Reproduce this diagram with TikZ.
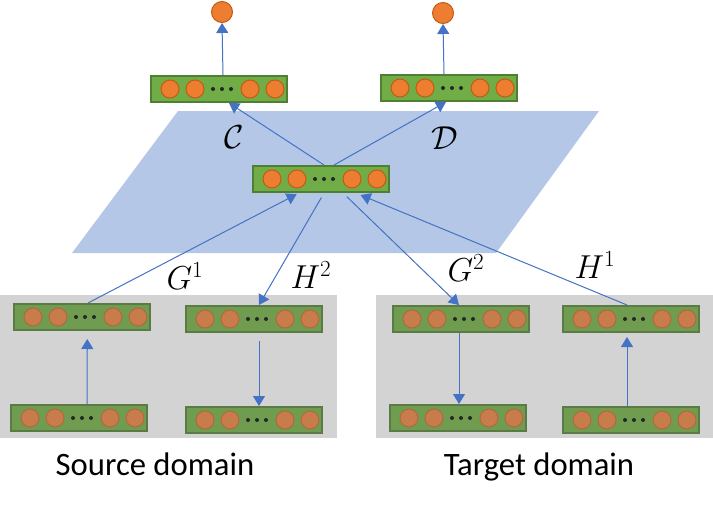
\documentclass[tikz,border=0pt]{standalone}
\usepackage{amsmath,amssymb}
\usepackage{fontspec}
\usepackage{xcolor}
\usepackage{tikz}
\usetikzlibrary{arrows.meta}

\newfontfamily\captionfont{Carlito}

\definecolor{layerfill}{HTML}{70AD47}
\definecolor{layerdraw}{HTML}{507E32}
\definecolor{unitfill}{HTML}{ED7D31}
\definecolor{unitdraw}{HTML}{C55A11}
\definecolor{layerfillg}{HTML}{6F9C4F}
\definecolor{layerdrawg}{HTML}{5A7A46}
\definecolor{unitfillg}{HTML}{C87C4C}
\definecolor{unitdrawg}{HTML}{B0693D}
\definecolor{panelgrey}{HTML}{D3D3D3}
\definecolor{planeblue}{HTML}{B4C7E7}
\definecolor{linkblue}{HTML}{4472C4}

\tikzset{
  layerbox/.style={draw=layerdraw, fill=layerfill, line width=1.5pt, minimum width=102pt, minimum height=19.5pt, inner sep=0pt},
  layerboxg/.style={layerbox, draw=layerdrawg, fill=layerfillg},
  unit/.style={circle, draw=unitdraw, fill=unitfill, line width=0.75pt, minimum size=13.5pt, inner sep=0pt},
  unitg/.style={unit, draw=unitdrawg, fill=unitfillg},
  dotmark/.style={circle, fill=black!85, minimum size=3pt, inner sep=0pt},
  link/.style={draw=linkblue, line width=0.75pt, -{Triangle[length=7.5pt,width=9pt]}},
  maplabel/.style={inner sep=0.75pt, font=\fontsize{26}{30}\selectfont},
}

% layer: name, top-left x, top-left y, colour suffix ({} or g)
\newcommand{\layer}[4]{%
  \node[layerbox#4, anchor=north west] (#1) at (#2,#3) {};
  \foreach \dx in {20,45,100,125}
    \node[unit#4] (#1-\dx) at ([xshift=\dx*0.75pt]#1.west) {};
  \foreach \dx in {63,72,81}
    \node[dotmark] (#1-d\dx) at ([xshift=\dx*0.75pt]#1.west) {};
}

\begin{document}
\begin{tikzpicture}[x=0.75pt,y=0.75pt,yscale=-1,xscale=1]
\useasboundingbox (0,0) rectangle (713,504);
%Shape: Parallelogram (shared space)
\fill[planeblue] (178,111) -- (599,111) -- (496,253) -- (72,253) -- cycle;
%Shape: Rectangle (source panel)
\fill[panelgrey] (0,295) rectangle (337,438);
%Shape: Rectangle (target panel)
\fill[panelgrey] (376,295) rectangle (713,438);

% Output units
\node[unit, minimum size=15.75pt] (outC) at (222,12) {};
\node[unit, minimum size=15.75pt] (outD) at (443,13) {};

% Layers
\layer{layC}{150}{75}{}
\layer{layD}{380}{74}{}
\layer{shared}{252}{165}{}
\layer{srcA}{13}{303}{g}
\layer{srcB}{185}{305}{g}
\layer{srcIn}{10}{404}{g}
\layer{srcOut}{185}{406}{g}
\layer{tgtA}{392}{305}{g}
\layer{tgtB}{562}{305}{g}
\layer{tgtOut}{389}{404}{g}
\layer{tgtIn}{562}{406}{g}

% Connectors
\draw[link] ([xshift=3pt]layC.north) -- (outC.south);
\draw[link] ([xshift=-3.75pt]layD.north) -- (outD.south);
\draw[link] ([xshift=2.25pt]shared.north) -- ([xshift=7.5pt]layC.south);
\draw[link] ([xshift=9.75pt]shared.north) -- ([xshift=-2.25pt]layD.south);
\draw[link, shorten >=2pt] ([xshift=4.5pt]srcA.north) -- ([xshift=-16.5pt]shared.south);
\draw[link, shorten <=4pt] ([xshift=2.25pt]shared.south) -- ([xshift=3.75pt]srcB.north);
\draw[link, shorten <=4pt] ([xshift=16.5pt]shared.south) -- ([xshift=-1.5pt]tgtA.north);
\draw[link, shorten >=4pt] ([xshift=-3pt]tgtB.north) -- ([xshift=26pt]shared.south);
\draw[link, shorten >=6pt] ([xshift=6pt]srcIn.north) -- ([xshift=4pt]srcA.south);
\draw[link, shorten <=6pt] ([xshift=3.75pt]srcB.south) -- ([xshift=3.75pt]srcOut.north);
\draw[link] ([xshift=-1.5pt]tgtA.south) -- ([xshift=0.75pt]tgtOut.north);
\draw[link, shorten >=3pt] ([xshift=-3pt]tgtIn.north) -- ([xshift=-3pt]tgtB.south);

% Text Nodes
\node[maplabel, font=\fontsize{28}{32}\selectfont] (lblC) at (234,137) {$\mathcal{C}$};
\node[maplabel, font=\fontsize{28}{32}\selectfont] (lblD) at (445,138) {$\mathcal{D}$};
\node[maplabel] (lblG1) at (185,276) {$G^1$};
\node[maplabel] (lblH2) at (311,275) {$H^2$};
\node[maplabel] (lblG2) at (466,268) {$G^2$};
\node[maplabel] (lblH1) at (595,265) {$H^1$};
\node[anchor=base, inner sep=0pt, font=\captionfont\fontsize{24.5}{28}\selectfont] (src) at (155,475) {Source domain};
\node[anchor=base, inner sep=0pt, font=\captionfont\fontsize{24.5}{28}\selectfont] (tgt) at (539,475) {Target domain};
\end{tikzpicture}
\end{document}
